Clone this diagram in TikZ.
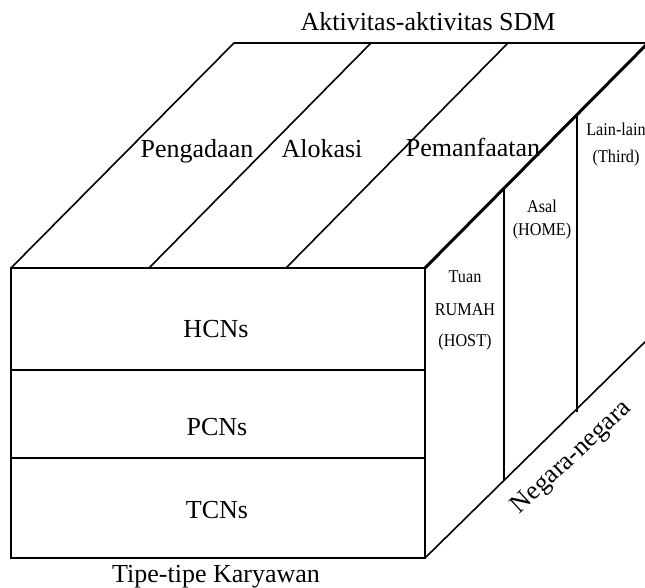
\documentclass[tikz,border=0pt]{standalone}
\usepackage{fontspec}
\setmainfont{Liberation Serif}
\newfontfamily\narrowserif[FakeStretch=0.9]{Liberation Serif}
\usetikzlibrary{calc}
\begin{document}
\begin{tikzpicture}[x=1pt,y=-1pt,
  edge/.style={line width=1.6pt},
  ridge/.style={line width=3pt},
  biglabel/.style={font=\fontsize{26}{31}\selectfont, inner sep=0pt, anchor=base},
  smalllabel/.style={font=\narrowserif\fontsize{18}{21}\selectfont, inner sep=0pt, anchor=base}]
\useasboundingbox (0,0) rectangle (645,588);
% corners of the cuboid (front face and depth offset)
\coordinate (fTL) at (11,268);
\coordinate (fTR) at (425,268);
\coordinate (fBR) at (425,558);
\coordinate (fBL) at (11,558);
\coordinate (bTL) at (234,43);
\coordinate (bTR) at (650,43);
\coordinate (rTop) at (650,41);
\coordinate (rBot) at (650,337);
\begin{scope}
\clip (0,0) rectangle (645,588);
% top face
\draw[edge] (fTL) -- (bTL) -- (bTR);
\draw[edge] (149,268) -- (371,43);
\draw[edge] (286,268) -- (508,43);
\draw[ridge, line cap=round] (fTR) -- (rTop);
% front face
\draw[edge] (fTL) rectangle (fBR);
\draw[edge] (11,370) -- (425,370);
\draw[edge] (11,458) -- (425,458);
% side face
\draw[edge] (fBR) -- (rBot);
\draw[edge] (504,189) -- (504,481);
\draw[edge] (577,115) -- (577,412);
\end{scope}
% labels on top
\node[biglabel] (sdm) at (428,31) {Aktivitas-aktivitas SDM};
\node[biglabel] (pengadaan) at (197,158) {Pengadaan};
\node[biglabel] (alokasi) at (322,158) {Alokasi};
\node[biglabel] (pemanfaatan) at (473,157) {Pemanfaatan};
% labels on front
\node[biglabel] (hcn) at (216,337) {HCNs};
\node[biglabel] (pcn) at (217,435) {PCNs};
\node[biglabel] (tcn) at (217,518) {TCNs};
\node[biglabel] (tipe) at (216,582) {Tipe-tipe Karyawan};
% labels on side
\node[smalllabel] (tuan) at (465,282) {Tuan};
\node[smalllabel] (rumah) at (465,315) {RUMAH};
\node[smalllabel] (host) at (465,346) {(HOST)};
\node[smalllabel] (asal) at (542,212) {Asal};
\node[smalllabel] (home) at (542,236) {(HOME)};
\node[smalllabel] (lain) at (616,136) {Lain-lain};
\node[smalllabel] (third) at (616,163) {(Third)};
\node[font=\fontsize{26}{31}\selectfont, inner sep=0pt, rotate=43] (negara) at (572,458) {Negara-negara};
\end{tikzpicture}
\end{document}
